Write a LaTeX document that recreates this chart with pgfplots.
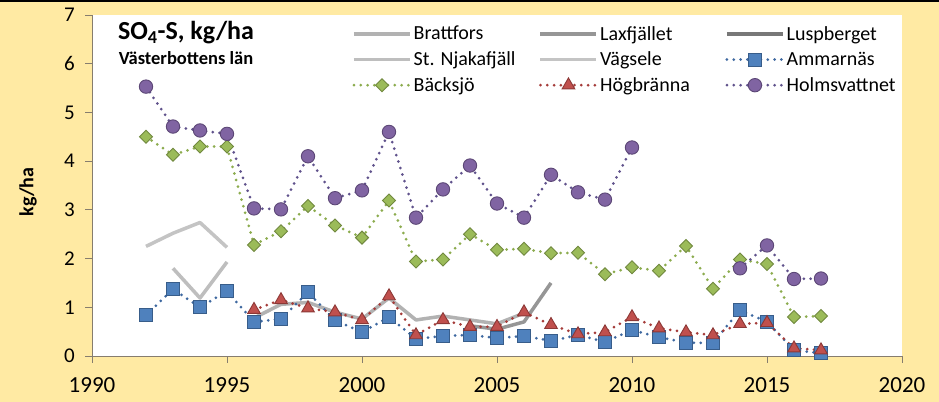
\documentclass[border=0pt]{standalone}
\usepackage{fontspec}
\setmainfont{Carlito}
\usepackage{pgfplots}
\pgfplotsset{compat=1.18}
\usepackage{pgfplotstable}

\definecolor{bgyellow}{RGB}{255,234,163}
\definecolor{axisgray}{RGB}{134,125,110}
\definecolor{ambfill}{RGB}{79,129,189}
\definecolor{amborder}{RGB}{56,93,138}
\definecolor{ambline}{RGB}{62,104,160}
\definecolor{grfill}{RGB}{155,187,89}
\definecolor{grborder}{RGB}{113,137,63}
\definecolor{grline}{RGB}{140,172,78}
\definecolor{rdfill}{RGB}{192,80,77}
\definecolor{rdborder}{RGB}{140,56,54}
\definecolor{rdline}{RGB}{165,60,58}
\definecolor{pufill}{RGB}{128,100,162}
\definecolor{puborder}{RGB}{92,71,118}
\definecolor{puline}{RGB}{96,82,140}
\definecolor{cBratt}{RGB}{178,178,178}
\definecolor{cLax}{RGB}{150,150,150}
\definecolor{cLusp}{RGB}{120,120,120}
\definecolor{cNjak}{RGB}{190,190,190}
\definecolor{cVag}{RGB}{196,196,196}

\pgfplotstableread{
year Amm Back Hog Holm
1992 0.84 4.50 nan 5.53
1993 1.37 4.13 nan 4.71
1994 1.00 4.30 nan 4.63
1995 1.33 4.30 nan 4.56
1996 0.70 2.28 0.95 3.03
1997 0.76 2.56 1.15 3.01
1998 1.31 3.08 0.98 4.10
1999 0.73 2.68 0.90 3.24
2000 0.49 2.43 0.74 3.40
2001 0.80 3.19 1.23 4.60
2002 0.35 1.94 0.43 2.84
2003 0.41 1.98 0.74 3.42
2004 0.43 2.50 0.60 3.91
2005 0.37 2.18 0.60 3.13
2006 0.41 2.20 0.90 2.84
2007 0.31 2.11 0.64 3.72
2008 0.43 2.12 0.45 3.36
2009 0.29 1.68 0.49 3.21
2010 0.53 1.82 0.80 4.28
2011 0.39 1.75 0.57 nan
2012 0.27 2.26 0.49 nan
2013 0.27 1.38 0.43 nan
2014 0.94 1.98 0.66 1.80
2015 0.70 1.89 0.68 2.27
2016 0.12 0.80 0.16 1.58
2017 0.06 0.82 0.12 1.59
}\mydata

\tikzset{
  dotline/.style={line width=3bp, dash pattern=on 0pt off 6.8bp, line cap=round},
  grayline/.style={line width=3.5bp, solid, line join=round},
}

\begin{document}
\begin{tikzpicture}
\fill[bgyellow] (0,0) rectangle (939bp,402bp);
\draw[black, line width=2.5bp] (0,400.75bp) -- (939bp,400.75bp);
\begin{axis}[
  at={(92bp,46bp)}, anchor=south west,
  scale only axis, width=810bp, height=341bp,
  xmin=1990, xmax=2020, ymin=0, ymax=7,
  xtick={1990,1995,...,2020}, ytick={0,1,...,7},
  axis lines=left, axis line style={-, axisgray, line width=0.9bp},
  tick align=outside, major tick length=7bp,
  tick style={axisgray, line width=0.9bp},
  axis background/.style={fill=white},
  tick label style={inner sep=0pt},
  xticklabel style={font=\fontsize{23bp}{27bp}\selectfont, yshift=-14bp},
  yticklabel style={font=\fontsize{21bp}{25bp}\selectfont, xshift=-10bp},
  /pgf/number format/assume math mode=true,
  /pgf/number format/set thousands separator={},
  unbounded coords=jump,
  legend columns=3,
  legend cell align=left,
  legend style={at={(axis description cs:0.321,0.983)}, anchor=north west,
    draw=none, fill=none, inner sep=0pt,
    font=\fontsize{20bp}{24bp}\selectfont,
    nodes={inner xsep=2bp, inner ysep=5.15bp}},
  legend image code/.code={\draw[mark repeat=2,mark phase=2,#1] plot coordinates {(0bp,0bp) (28bp,0bp) (56bp,0bp)};},
]
% gray solid lines
\addplot[cBratt, grayline, mark=none] coordinates {
 (1996,0.78) (1997,1.06) (1998,1.10) (1999,0.90) (2000,0.76) (2001,1.19)
 (2002,0.74) (2003,0.82) (2004,0.74) (2005,0.66) (2006,0.88)};
\addlegendentry{\makebox[123bp][l]{Brattfors}}
\addplot[cLax, grayline, mark=none] coordinates {
 (2004,0.62) (2005,0.55) (2006,0.70) (2007,1.50)};
\addlegendentry{\makebox[123bp][l]{Laxfjället}}
\addlegendimage{cLusp, grayline, mark=none}
\addlegendentry{Luspberget}
\addplot[cNjak, grayline, mark=none] coordinates {
 (1993,1.80) (1994,1.19) (1995,1.93)};
\addlegendentry{\makebox[123bp][l]{St. Njakafjäll}}
\addplot[cVag, grayline, mark=none] coordinates {
 (1992,2.25) (1993,2.52) (1994,2.74) (1995,2.23)};
\addlegendentry{\makebox[123bp][l]{Vägsele}}
% station series with markers
\addplot[ambline, dotline, mark=square*, mark size=6.5bp,
  mark options={solid, fill=ambfill, draw=amborder, line width=0.9bp}]
  table[x=year, y=Amm] {\mydata};
\addlegendentry{Ammarnäs}
\addplot[grline, dotline, mark=square*, mark size=4.6bp,
  mark options={solid, rotate=45, fill=grfill, draw=grborder, line width=0.9bp}]
  table[x=year, y=Back] {\mydata};
\addlegendentry{\makebox[123bp][l]{Bäcksjö}}
\addplot[rdline, dotline, mark=triangle*, mark size=7.3bp,
  mark options={solid, fill=rdfill, draw=rdborder, line width=0.9bp}]
  table[x=year, y=Hog] {\mydata};
\addlegendentry{\makebox[123bp][l]{Högbränna}}
\addplot[puline, dotline, mark=*, mark size=6.7bp,
  mark options={solid, fill=pufill, draw=puborder, line width=0.9bp}]
  table[x=year, y=Holm] {\mydata};
\addlegendentry{Holmsvattnet}
\end{axis}
\node[anchor=base, font=\bfseries\fontsize{26bp}{30bp}\selectfont] at (186bp,362bp) {SO\textsubscript{4}-S, kg/ha};
\node[anchor=base, font=\bfseries\fontsize{18.5bp}{22bp}\selectfont] at (186bp,337bp) {Västerbottens län};
\node[rotate=90, font=\bfseries\fontsize{20bp}{24bp}\selectfont] at (28bp,210bp) {kg/ha};
\pgfresetboundingbox
\useasboundingbox (0,0) rectangle (939bp,402bp);
\end{tikzpicture}
\end{document}
